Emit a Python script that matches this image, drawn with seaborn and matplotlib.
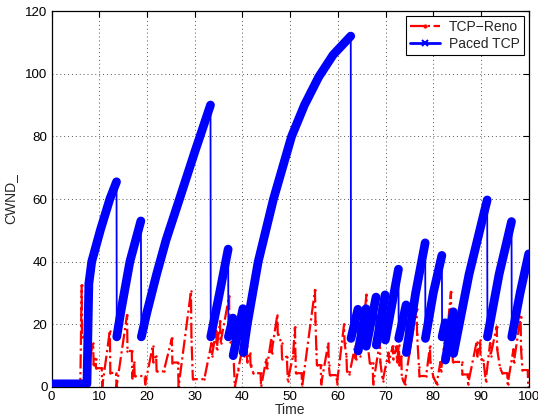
import numpy as np
import pandas as pd
import matplotlib
matplotlib.use("Agg")
import matplotlib.pyplot as plt
from matplotlib.lines import Line2D
import seaborn as sns

# ---------------- data ----------------
blue_t = [0, 7.4, 7.8, 8.4, 10.2, 12.2, 13.6,
          13.65, 14.5, 16.4, 18.7,
          18.8, 20.0, 22.0, 24.0, 26.8, 30.0, 33.3,
          33.35, 35.2, 37.0,
          37.05, 38.0,
          38.05, 40.1,
          40.15, 41.0, 43.3, 46.5, 50.3, 53.0, 56.0, 59.0, 62.7,
          62.75, 64.2,
          64.25, 65.9,
          65.95, 68.0,
          68.05, 69.9,
          69.95, 72.7,
          72.75, 74.3,
          74.35, 76.3, 78.3,
          78.35, 80.0, 81.8,
          81.85, 82.5,
          82.55, 84.2,
          84.25, 87.5, 91.3,
          91.35, 93.8, 96.4,
          96.45, 98.2, 100.0]
blue_y = [1, 1, 33, 40, 50, 60, 65.5,
          16, 24, 40, 53,
          16, 24, 36, 47, 60, 75, 90,
          16, 30, 44,
          16, 22,
          10, 25,
          11, 20, 40, 60, 80, 90, 99, 106, 112,
          15.5, 24.8,
          11.5, 25,
          13, 28.7,
          13.4, 29.4,
          15, 37.6,
          15.5, 26.2,
          11, 30, 46,
          15.5, 30, 42,
          16, 20.5,
          8.6, 24,
          10.7, 36, 59.7,
          16, 36, 52.8,
          16, 30, 42.5]

red_t = [0, 6.0, 6.3, 6.35, 7.3, 7.4, 8.7, 8.8, 9.2, 9.3, 10.5, 10.6, 12.2, 12.3, 13.5, 13.6,
         15.8, 15.9, 16.8, 16.9, 17.3, 17.4, 19.5, 19.6, 21.2, 21.3, 21.9, 22.0, 23.5, 25.2,
         25.3, 26.5, 26.6, 29.2, 29.3, 29.6, 32.0, 33.5, 33.6, 34.5, 34.6, 35.3, 35.4, 37.2,
         37.3, 38.0, 38.4, 39.1, 40.2, 40.3, 40.9, 41.0, 41.6, 41.7, 42.3, 43.8, 43.9, 45.0,
         45.1, 46.0, 46.1, 47.3, 47.4, 48.2, 48.3, 49.3, 49.5, 50.6, 51.0, 51.1, 51.2, 52.4,
         52.5, 55.2, 55.3, 55.5, 55.6, 56.4, 56.5, 58.0, 58.1, 58.3, 59.7, 59.8, 61.3, 61.4,
         61.8, 61.9, 62.4, 63.6, 63.7, 64.5, 64.6, 66.0, 66.1, 66.3, 66.7, 67.3, 67.4, 68.8,
         68.9, 69.4, 70.6, 70.7, 71.5, 71.6, 72.3, 72.4, 72.8, 72.9, 73.3, 73.4, 74.0, 76.5,
         76.6, 77.0, 77.1, 78.5, 79.3, 79.4, 80.0, 80.7, 81.5, 81.6, 82.5, 82.6, 83.7, 83.8,
         84.0, 84.1, 86.0, 86.1, 87.2, 87.3, 89.1, 89.2, 89.8, 89.9, 90.5, 91.0, 91.9, 92.0,
         93.3, 93.4, 94.0, 94.5, 95.5, 95.6, 96.8, 96.9, 98.3, 98.4, 98.7, 99.8, 99.9]
red_y = [0, 0, 32.5, 16, 16, 5, 14, 7, 9, 6, 6, 0, 18, 4.5, 4.5, 0,
         23, 11.5, 11.5, 3, 8, 3.5, 3.5, 1, 13, 8, 10, 5, 5, 15.5,
         7.8, 7.8, 0, 30.5, 16, 2.5, 2.5, 14, 10, 18, 12, 21, 14, 29,
         14.5, 14.5, 0, 5.4, 14, 10, 13, 8, 11, 7, 4.4, 4.4, 0, 9,
         6, 15, 11, 23, 17, 14, 9, 9.7, 2, 10, 19, 10, 4.4, 4.4,
         0, 31, 21, 12, 7, 7, 1, 14, 7, 3.8, 3.8, 1, 20, 14,
         10, 5, 4, 13, 9, 15, 10, 29.5, 22, 13, 7.5, 7.5, 1, 14.5,
         8, 2, 11, 8, 13, 9, 13, 8, 13.4, 7, 10, 3, 1, 25,
         17, 6.5, 3.5, 3.5, 13, 8, 3.3, 1, 8, 5, 16, 12, 30.4, 17,
         12, 8, 8, 4, 4, 1, 14.5, 10, 15, 9, 8.6, 2, 14, 10,
         19.3, 12, 6, 4.4, 4.4, 1, 12, 8, 22.4, 12, 5.4, 5.4, 0]

series_names = ["TCP\u2212Reno", "Paced TCP"]
x_ticks = [0, 10, 20, 30, 40, 50, 60, 70, 80, 90, 100]
y_ticks = [0, 20, 40, 60, 80, 100, 120]

# ---------------- styling ----------------
sns.set_style("white")
plt.rcParams["font.family"] = ["Liberation Sans", "DejaVu Sans"]
plt.rcParams["font.size"] = 10

fig = plt.figure(figsize=(5.38, 4.19), dpi=100)
ax = fig.add_axes([0.096, 0.0764, 0.8867, 0.8973])

red_df = pd.DataFrame({"t": red_t, "cwnd": red_y})
blue_df = pd.DataFrame({"t": blue_t, "cwnd": blue_y})

# TCP-Reno : red dash-dot with dots
sns.lineplot(data=red_df, x="t", y="cwnd", sort=False, estimator=None, ax=ax,
             color="#ff0000", linewidth=1.6, linestyle="-.", marker=".",
             markersize=3.5, markeredgewidth=0, zorder=2)

# Paced TCP : thin connecting line (drops) + thick marked ramps
sns.lineplot(data=blue_df, x="t", y="cwnd", sort=False, estimator=None, ax=ax,
             color="#0000ff", linewidth=1.3, zorder=3)
yv = np.asarray(blue_y)
breaks = np.where(np.diff(yv) < 0)[0] + 1
start = 0
for b in list(breaks) + [len(yv)]:
    seg = blue_df.iloc[start:b]
    sns.lineplot(data=seg, x="t", y="cwnd", sort=False, estimator=None, ax=ax,
                 color="#0000ff", linewidth=6.3, solid_joinstyle="round",
                 solid_capstyle="round", zorder=4)
    start = b

ax.set_xlim(0, 100)
ax.set_ylim(0, 120)
ax.set_xticks(x_ticks)
ax.set_yticks(y_ticks)
ax.set_xlabel("Time", fontsize=10, labelpad=0)
ax.set_ylabel("CWND_", fontsize=10, labelpad=6)
ax.grid(True, linestyle=(0, (1, 3)), color="#555555", linewidth=0.7)
ax.tick_params(direction="in", length=4, width=0.8, top=True, right=True,
               labelsize=9.6, pad=3, colors="black")
for s in ax.spines.values():
    s.set_visible(True)
    s.set_color("black")
    s.set_linewidth(0.9)

handles = [Line2D([], [], color="#ff0000", linestyle="-.", linewidth=1.6, marker=".",
                  markersize=4),
           Line2D([], [], color="#0000ff", linestyle="-", linewidth=2, marker="x",
                  markersize=4, markeredgewidth=1.5)]
leg = ax.legend(handles, series_names, loc="upper right", fontsize=10, frameon=True,
                fancybox=False, borderaxespad=0.35, handlelength=2.2, borderpad=0.3,
                labelspacing=0.2, handletextpad=0.6)
leg.get_frame().set_edgecolor("black")
leg.get_frame().set_linewidth(0.8)
leg.get_frame().set_alpha(1)

fig.savefig("out.png", dpi=100)
